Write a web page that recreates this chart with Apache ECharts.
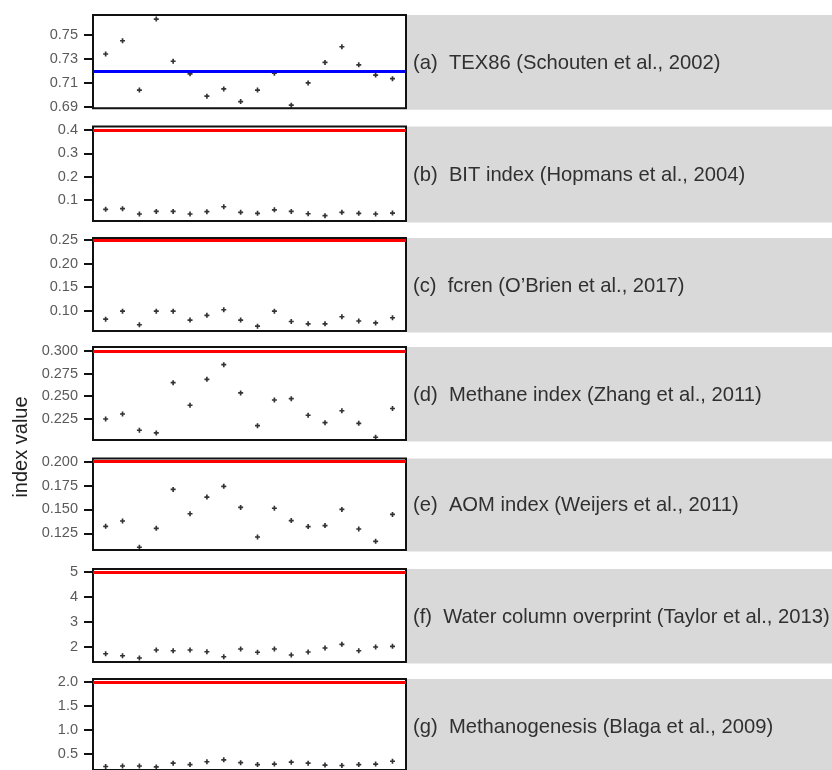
<!DOCTYPE html>
<html><head><meta charset="utf-8">
<script src="https://cdn.jsdelivr.net/npm/echarts@6/dist/echarts.min.js"></script>
<style>html,body{margin:0;padding:0;background:#fff}#c{width:832px;height:770px}</style>
</head><body><div id="c"></div>
<script>
// ---- data ----
const sampleIndex = [1,2,3,4,5,6,7,8,9,10,11,12,13,14,15,16,17,18];
const tex86 = [0.734,0.745,0.704,0.763,0.728,0.7175,0.699,0.705,0.6945,0.704,0.718,0.6915,0.710,0.727,0.740,0.725,0.7165,0.7135];
const bitIndex = [0.060,0.063,0.040,0.051,0.051,0.040,0.050,0.071,0.047,0.043,0.058,0.051,0.041,0.033,0.047,0.043,0.040,0.044];
const fcren = [0.082,0.099,0.070,0.099,0.099,0.080,0.090,0.102,0.080,0.067,0.099,0.077,0.072,0.072,0.087,0.078,0.074,0.085];
const methaneIndex = [0.2247,0.2302,0.2122,0.2092,0.2649,0.2399,0.2686,0.2848,0.2535,0.2173,0.2457,0.2472,0.2288,0.2206,0.2338,0.2199,0.2044,0.2363];
const aomIndex = [0.1323,0.1379,0.1104,0.1302,0.1710,0.1455,0.1630,0.1742,0.1521,0.1211,0.1513,0.1383,0.1320,0.1331,0.1500,0.1295,0.1166,0.1448];
const waterColumn = [1.73,1.65,1.56,1.88,1.85,1.88,1.81,1.61,1.92,1.79,1.92,1.68,1.80,1.96,2.11,1.85,2.00,2.03];
const methanogenesis = [0.23,0.24,0.24,0.22,0.30,0.27,0.33,0.37,0.31,0.27,0.28,0.32,0.30,0.26,0.25,0.27,0.28,0.34];

const thresholds = [0.72, 0.4, 0.25, 0.30, 0.20, 5, 2.0];
const yMins = [0.6889, 0.010, 0.0568, 0.2014, 0.1075, 1.40, 0.156];
const yMaxs = [0.7664, 0.415, 0.2543, 0.3044, 0.2034, 5.13, 2.068];

const tickLabelsA = ['0.69','0.71','0.73','0.75'];
const tickLabelsB = ['0.1','0.2','0.3','0.4'];
const tickLabelsC = ['0.10','0.15','0.20','0.25'];
const tickLabelsD = ['0.225','0.250','0.275','0.300'];
const tickLabelsE = ['0.125','0.150','0.175','0.200'];
const tickLabelsF = ['2','3','4','5'];
const tickLabelsG = ['0.5','1.0','1.5','2.0'];

const panelLabels = [
  '(a)  TEX86 (Schouten et al., 2002)',
  '(b)  BIT index (Hopmans et al., 2004)',
  '(c)  fcren (O\u2019Brien et al., 2017)',
  '(d)  Methane index (Zhang et al., 2011)',
  '(e)  AOM index (Weijers et al., 2011)',
  '(f)  Water column overprint (Taylor et al., 2013)',
  '(g)  Methanogenesis (Blaga et al., 2009)'
];
const yTitle = 'index value';

// ---- layout ----
const series_ = [tex86, bitIndex, fcren, methaneIndex, aomIndex, waterColumn, methanogenesis];
const ticks_ = [tickLabelsA, tickLabelsB, tickLabelsC, tickLabelsD, tickLabelsE, tickLabelsF, tickLabelsG];
const lineColors = ['#0000ff','#ff0000','#ff0000','#ff0000','#ff0000','#ff0000','#ff0000'];
const tops = [15, 126.5, 238, 347, 458.5, 569, 679];
const bottoms = [108.3, 221, 331, 440, 550, 662, 772];
const L = 93, R = 406;

const grids = [], xAxes = [], yAxes = [], series = [], graphics = [];
const plus = 'path://M2,0H4V2H6V4H4V6H2V4H0V2H2Z';

for (let i = 0; i < 7; i++) {
  grids.push({left: L, top: tops[i], width: R - L, height: bottoms[i] - tops[i],
    show: true, borderColor: '#111', borderWidth: 2, backgroundColor: '#fff', z: 0});
  xAxes.push({type: 'value', gridIndex: i, min: 0.25, max: 18.8, show: false});
  const labs = ticks_[i];
  const vals = labs.map(parseFloat);
  yAxes.push({type: 'value', gridIndex: i, min: yMins[i], max: yMaxs[i],
    splitLine: {show: false},
    axisLine: {show: false},
    axisTick: {show: true, length: 9, customValues: vals, lineStyle: {color: '#111', width: 2}},
    axisLabel: {show: true, customValues: vals, margin: 15, color: '#5a5a5a',
      fontFamily: 'Liberation Sans', fontSize: 14.5,
      formatter: v => { const k = vals.findIndex(t => Math.abs(t - v) < 1e-9); return k >= 0 ? labs[k] : ''; }}
  });
  series.push({type: 'scatter', xAxisIndex: i, yAxisIndex: i,
    data: sampleIndex.map((x, k) => [x, series_[i][k]]),
    symbol: plus, symbolSize: 5, itemStyle: {color: '#000'}, silent: true, z: 3,
    markLine: {silent: true, symbol: ['none','none'], label: {show: false},
      lineStyle: {color: lineColors[i], width: 3, type: 'solid'},
      data: [{yAxis: thresholds[i]}], animation: false}
  });
  graphics.push({type: 'rect', shape: {x: 407, y: tops[i], width: 425, height: bottoms[i] - tops[i] + 1.5},
    style: {fill: '#d9d9d9'}, z: -1, silent: true});
  graphics.push({type: 'text', x: 413, y: (tops[i] + bottoms[i]) / 2 + 1.5,
    style: {text: panelLabels[i], fill: '#303030', font: '20.2px "Liberation Sans", Arial, sans-serif',
      textAlign: 'left', textVerticalAlign: 'middle'}, z: 5});
}
graphics.push({type: 'text', x: 21, y: 447, rotation: Math.PI / 2,
  style: {text: yTitle, fill: '#222', font: '20px "Liberation Sans", Arial, sans-serif',
    textAlign: 'center', textVerticalAlign: 'middle'}, z: 5});

const chart = echarts.init(document.getElementById('c'), null, {renderer: 'canvas'});
chart.setOption({animation: false, backgroundColor: '#fff',
  grid: grids, xAxis: xAxes, yAxis: yAxes, series: series, graphic: graphics});
</script></body></html>
